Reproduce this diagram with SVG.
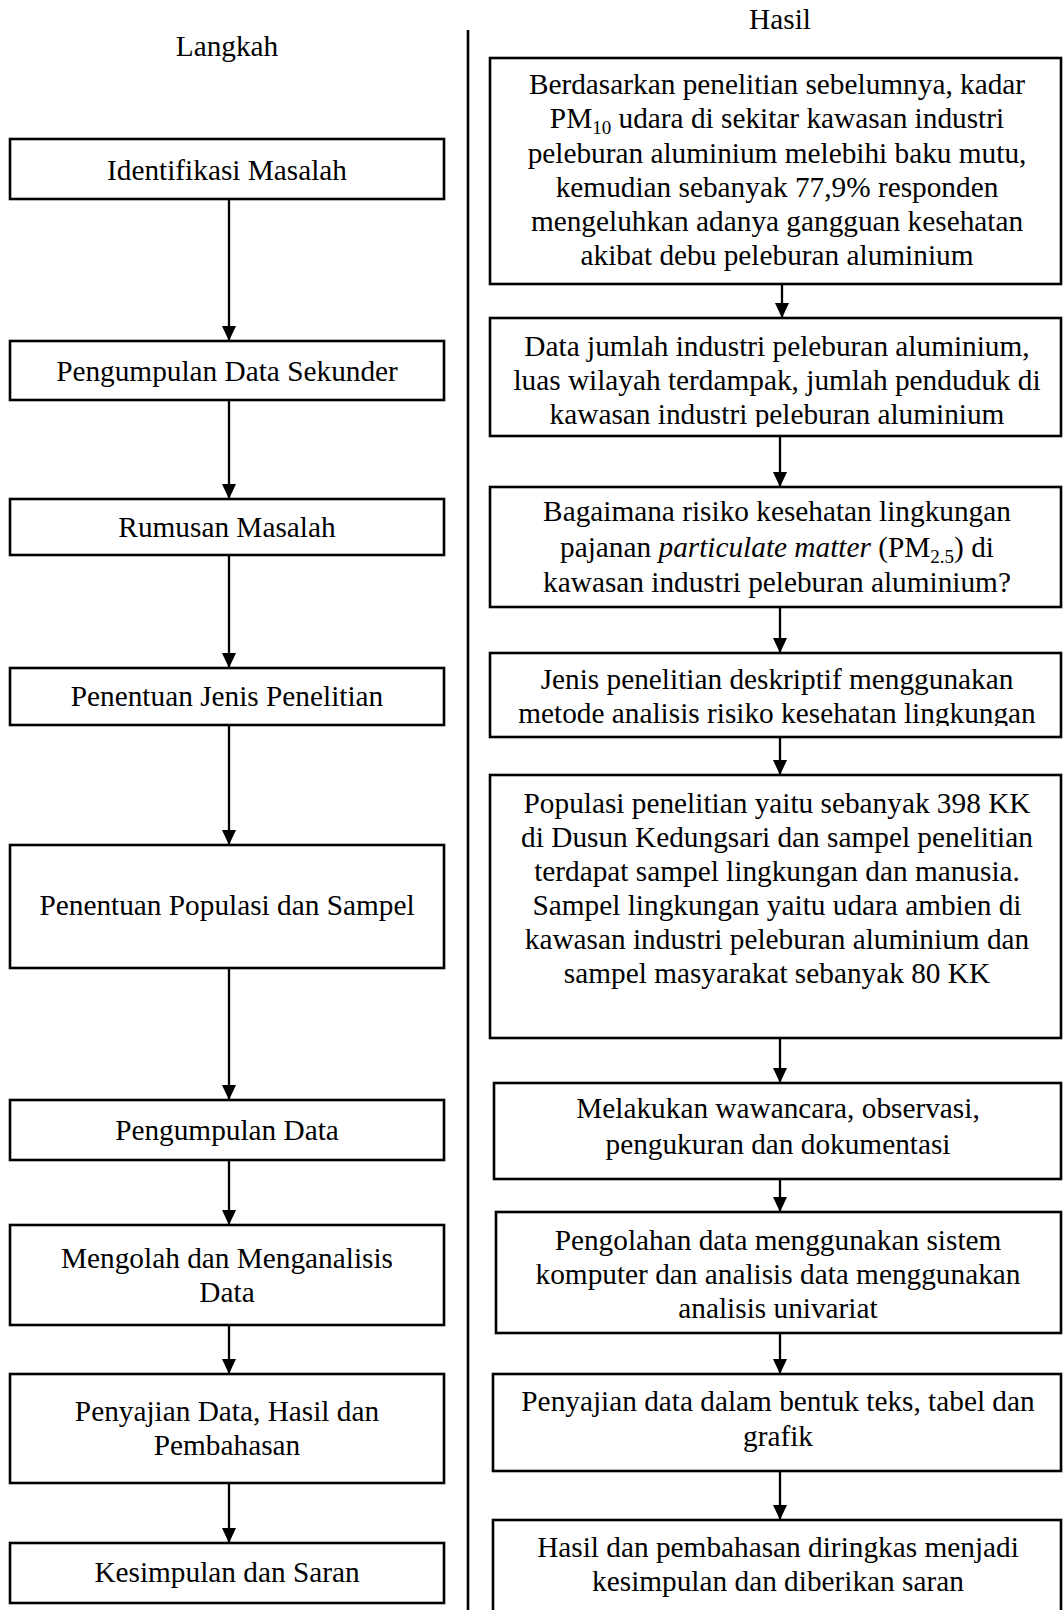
<svg xmlns="http://www.w3.org/2000/svg" width="1063" height="1610" viewBox="0 0 1063 1610">
<style>
.box{fill:#fff;stroke:#000;stroke-width:2.6}
.t{font-family:"Liberation Serif","Times New Roman",serif;font-size:29.3px;fill:#000;text-anchor:middle}
.sub{font-size:19px}
.conn{stroke:#000;stroke-width:2.3;fill:none;marker-end:url(#arr)}
.div{stroke:#000;stroke-width:2.6}
</style>
<defs>
<marker id="arr" markerUnits="userSpaceOnUse" markerWidth="15" markerHeight="14" refX="15" refY="7" orient="auto" viewBox="0 0 15 14">
<path d="M0,0 L15,7 L0,14 Z" fill="#000"/>
</marker>
<clipPath id="clipR2"><rect x="490" y="318" width="571" height="109"/></clipPath>
<clipPath id="clipR4"><rect x="490" y="653" width="571" height="73"/></clipPath>
</defs>
<rect width="1063" height="1610" fill="#fff"/>
<line class="div" x1="468" y1="30" x2="468" y2="1610"/>
<text class="t" x="227" y="56">Langkah</text>
<text class="t" x="780" y="29">Hasil</text>

<g id="connectors">
<line class="conn" x1="229" y1="199" x2="229" y2="341"/>
<line class="conn" x1="229" y1="400" x2="229" y2="499"/>
<line class="conn" x1="229" y1="555" x2="229" y2="668"/>
<line class="conn" x1="229" y1="725" x2="229" y2="845"/>
<line class="conn" x1="229" y1="968" x2="229" y2="1100"/>
<line class="conn" x1="229" y1="1160" x2="229" y2="1225"/>
<line class="conn" x1="229" y1="1325" x2="229" y2="1374"/>
<line class="conn" x1="229" y1="1483" x2="229" y2="1543"/>
<line class="conn" x1="782" y1="284" x2="782" y2="318"/>
<line class="conn" x1="780" y1="436" x2="780" y2="487"/>
<line class="conn" x1="780" y1="607" x2="780" y2="653"/>
<line class="conn" x1="780" y1="737" x2="780" y2="775"/>
<line class="conn" x1="780" y1="1038" x2="780" y2="1083"/>
<line class="conn" x1="780" y1="1179" x2="780" y2="1212"/>
<line class="conn" x1="780" y1="1333" x2="780" y2="1374"/>
<line class="conn" x1="780" y1="1471" x2="780" y2="1520"/>
</g>

<g id="n1"><rect class="box" x="10" y="139" width="434" height="60"/><text class="t" x="227" y="180">Identifikasi Masalah</text></g>
<g id="n2"><rect class="box" x="10" y="341" width="434" height="59"/><text class="t" x="227" y="381">Pengumpulan Data Sekunder</text></g>
<g id="n3"><rect class="box" x="10" y="499" width="434" height="56"/><text class="t" x="227" y="537">Rumusan Masalah</text></g>
<g id="n4"><rect class="box" x="10" y="668" width="434" height="57"/><text class="t" x="227" y="706">Penentuan Jenis Penelitian</text></g>
<g id="n5"><rect class="box" x="10" y="845" width="434" height="123"/><text class="t" x="227" y="915">Penentuan Populasi dan Sampel</text></g>
<g id="n6"><rect class="box" x="10" y="1100" width="434" height="60"/><text class="t" x="227" y="1140">Pengumpulan Data</text></g>
<g id="n7"><rect class="box" x="10" y="1225" width="434" height="100"/><text class="t" x="227" y="1268">Mengolah dan Menganalisis</text><text class="t" x="227" y="1302">Data</text></g>
<g id="n8"><rect class="box" x="10" y="1374" width="434" height="109"/><text class="t" x="227" y="1421">Penyajian Data, Hasil dan</text><text class="t" x="227" y="1455">Pembahasan</text></g>
<g id="n9"><rect class="box" x="10" y="1543" width="434" height="60"/><text class="t" x="227" y="1582">Kesimpulan dan Saran</text></g>

<g id="r1"><rect class="box" x="490" y="58" width="571" height="226"/>
<text class="t" x="777" y="94">Berdasarkan penelitian sebelumnya, kadar</text>
<text class="t" x="777" y="128">PM<tspan class="sub" dy="6">10</tspan><tspan dy="-6"> udara di sekitar kawasan industri</tspan></text>
<text class="t" x="777" y="163">peleburan aluminium melebihi baku mutu,</text>
<text class="t" x="777" y="197">kemudian sebanyak 77,9% responden</text>
<text class="t" x="777" y="231">mengeluhkan adanya gangguan kesehatan</text>
<text class="t" x="777" y="265">akibat debu peleburan aluminium</text></g>
<g id="r2"><rect class="box" x="490" y="318" width="571" height="118"/>
<g clip-path="url(#clipR2)">
<text class="t" x="777" y="356">Data jumlah industri peleburan aluminium,</text>
<text class="t" x="777" y="390">luas wilayah terdampak, jumlah penduduk di</text>
<text class="t" x="777" y="424">kawasan industri peleburan aluminium</text></g></g>
<g id="r3"><rect class="box" x="490" y="487" width="571" height="120"/>
<text class="t" x="777" y="521">Bagaimana risiko kesehatan lingkungan</text>
<text class="t" x="777" y="557">pajanan <tspan font-style="italic">particulate matter</tspan> (PM<tspan class="sub" dy="6">2.5</tspan><tspan dy="-6">) di</tspan></text>
<text class="t" x="777" y="592">kawasan industri peleburan aluminium?</text></g>
<g id="r4"><rect class="box" x="490" y="653" width="571" height="84"/>
<g clip-path="url(#clipR4)">
<text class="t" x="777" y="689">Jenis penelitian deskriptif menggunakan</text>
<text class="t" x="777" y="723">metode analisis risiko kesehatan lingkungan</text></g></g>
<g id="r5"><rect class="box" x="490" y="775" width="571" height="263"/>
<text class="t" x="777" y="813">Populasi penelitian yaitu sebanyak 398 KK</text>
<text class="t" x="777" y="847">di Dusun Kedungsari dan sampel penelitian</text>
<text class="t" x="777" y="881">terdapat sampel lingkungan dan manusia.</text>
<text class="t" x="777" y="915">Sampel lingkungan yaitu udara ambien di</text>
<text class="t" x="777" y="949">kawasan industri peleburan aluminium dan</text>
<text class="t" x="777" y="983">sampel masyarakat sebanyak 80 KK</text></g>
<g id="r6"><rect class="box" x="494" y="1083" width="567" height="96"/>
<text class="t" x="778" y="1118">Melakukan wawancara, observasi,</text>
<text class="t" x="778" y="1154">pengukuran dan dokumentasi</text></g>
<g id="r7"><rect class="box" x="496" y="1212" width="565" height="121"/>
<text class="t" x="778" y="1250">Pengolahan data menggunakan sistem</text>
<text class="t" x="778" y="1284">komputer dan analisis data menggunakan</text>
<text class="t" x="778" y="1318">analisis univariat</text></g>
<g id="r8"><rect class="box" x="493" y="1374" width="568" height="97"/>
<text class="t" x="778" y="1411">Penyajian data dalam bentuk teks, tabel dan</text>
<text class="t" x="778" y="1446">grafik</text></g>
<g id="r9"><rect class="box" x="493" y="1520" width="568" height="96"/>
<text class="t" x="778" y="1557">Hasil dan pembahasan diringkas menjadi</text>
<text class="t" x="778" y="1591">kesimpulan dan diberikan saran</text></g>
</svg>
